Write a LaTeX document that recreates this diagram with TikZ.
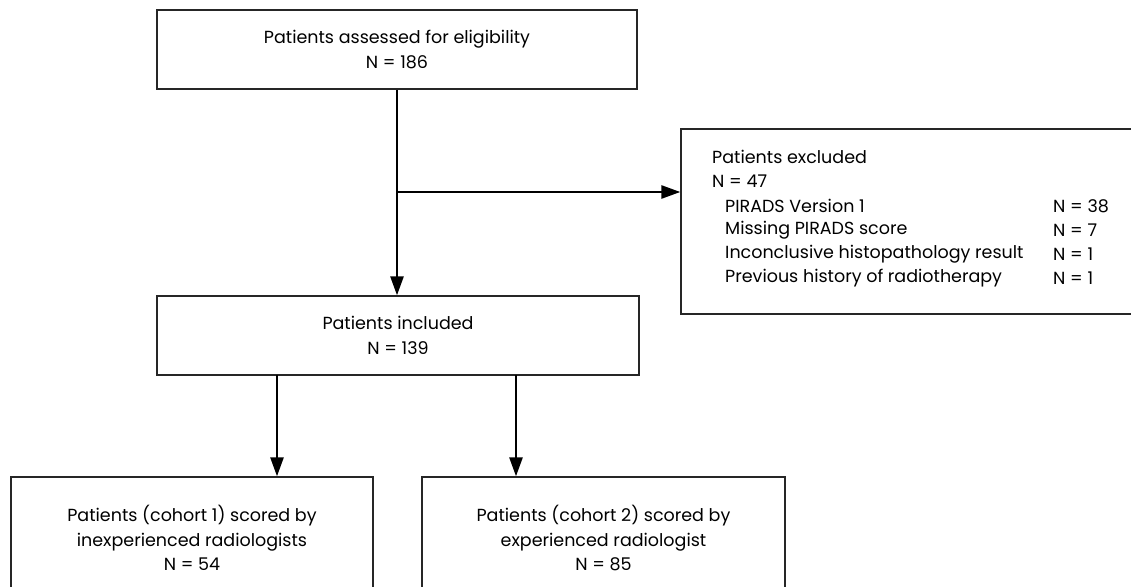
\documentclass[tikz,border=0pt]{standalone}
\usepackage{fontspec}
\setmainfont{Poppins}
\usetikzlibrary{arrows.meta}
\begin{document}
\begin{tikzpicture}[x=1pt,y=-1pt,
  box/.style={draw=black!85,line width=1.3pt,rectangle,inner sep=0pt,align=center,font=\fontsize{17.5}{24.5}\selectfont},
  arr/.style={line width=2.6pt,-{Triangle[length=19pt,width=13pt]}},
  txt/.style={anchor=west,inner sep=0pt,font=\fontsize{17.5}{24}\selectfont}]
\useasboundingbox (0,0) rectangle (1131,586);
\node[box,minimum width=480pt,minimum height=79pt] (top) at (397,49.5) {Patients assessed for eligibility\\N = 186};
\node[box,minimum width=482pt,minimum height=79pt] (inc) at (398,335.5) {Patients included\\N = 139};
\node[box,minimum width=456pt,minimum height=185pt] (exc) at (909,221.5) {};
\node[box,minimum width=362pt,minimum height=122pt] (c1) at (192,538) {Patients (cohort 1) scored by\\inexperienced radiologists\\N = 54};
\node[box,minimum width=363pt,minimum height=122pt] (c2) at (603.5,538) {Patients (cohort 2) scored by\\experienced radiologist\\N = 85};
\node[txt] (e1) at (712,157) {Patients excluded};
\node[txt] (e2) at (712,181) {N = 47};
\node[txt] (e3) at (725,206) {PIRADS Version 1};
\node[txt] (e4) at (725,230) {Missing PIRADS score};
\node[txt] (e5) at (725,254) {Inconclusive histopathology result};
\node[txt] (e6) at (725,278) {Previous history of radiotherapy};
\node[txt] (n3) at (1053,206) {N = 38};
\node[txt] (n4) at (1053,230) {N = 7};
\node[txt] (n5) at (1053,254) {N = 1};
\node[txt] (n6) at (1053,278) {N = 1};
\coordinate (br) at (397,192);
\coordinate (b1) at (277,375);
\coordinate (b2) at (516,375);
\draw[arr] (top.south) -- (top.south |- inc.north);
\draw[arr] (br) -- (br -| exc.west);
\draw[arr] (b1) -- (b1 |- c1.north);
\draw[arr] (b2) -- (b2 |- c2.north);
\end{tikzpicture}
\end{document}
